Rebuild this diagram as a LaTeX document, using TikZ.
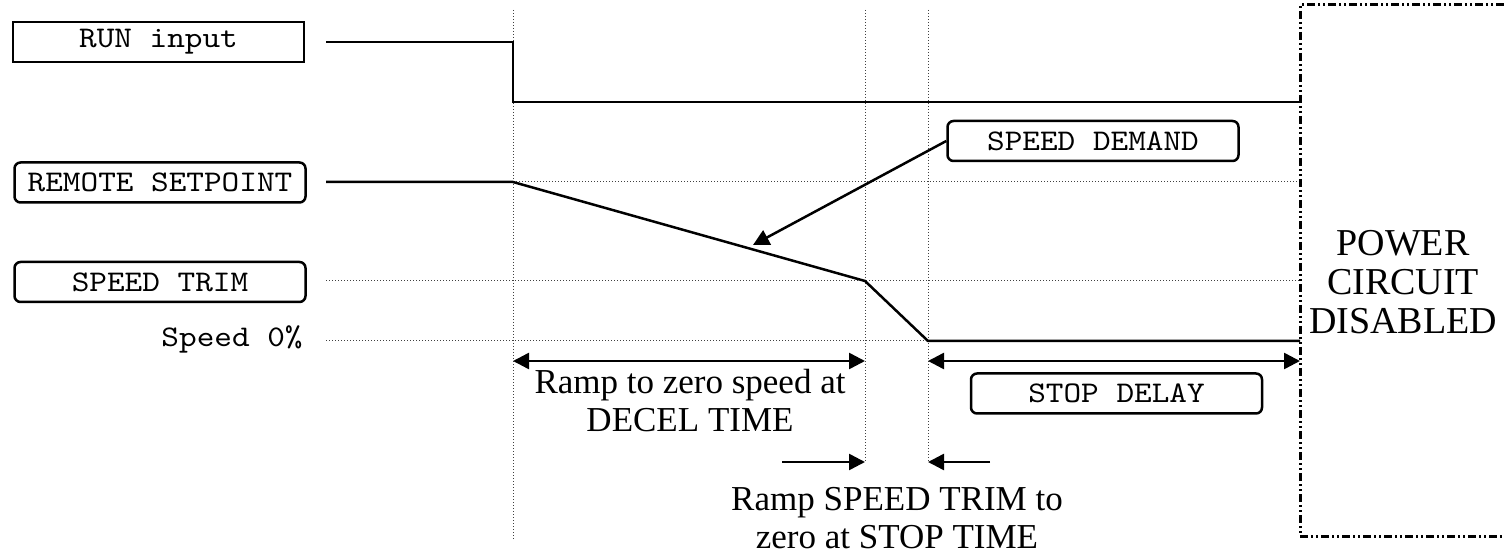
\documentclass[tikz,border=0pt]{standalone}
\usepackage{fontspec}
\setmainfont{Liberation Serif}
\setmonofont{lmmono10-regular}[Extension=.otf, FakeStretch=1.12]
\usetikzlibrary{arrows.meta, positioning}

\begin{document}
\begin{tikzpicture}[
      x=0.5pt, y=-0.5pt,
      >={Triangle[length=8pt, width=8pt]},
      sig/.style={line width=1.25pt},
      guide/.style={line width=0.5pt, densely dotted, black!75},
      tag/.style={draw, line width=1.25pt, rounded corners=3pt, minimum width=145.5pt,
        minimum height=20pt, inner sep=0pt, font=\fontsize{15}{17}\selectfont\ttfamily},
      plain/.style={tag, sharp corners},
      note/.style={align=center, inner sep=0pt, font=\fontsize{17.5}{19}\selectfont},
      span/.style={sig, <->},
      cutoff/.style={line width=1.5pt,
        dash pattern=on 4pt off 1.5pt on 1pt off 1.5pt on 1pt off 1.5pt},
    ]
    \useasboundingbox (0,0) rectangle (1504,555);
    % time markers
    \foreach \gx/\gy in {513/540, 865/462, 928/462}
      \draw[guide] (\gx,10) -- (\gx,\gy);
    \foreach \gy/\gs in {182/513, 281/326, 341/326}
      \draw[guide] (\gs,\gy) -- (1300,\gy);
    % signal names
    \node[plain] (run) at (158.5,42) {RUN input};
    \node[tag] (remote) at (160,182.5) {REMOTE SETPOINT};
    \node[tag] (trim) at (160,282) {SPEED TRIM};
    \node[anchor=east, inner sep=0pt, font=\fontsize{15}{17}\selectfont\ttfamily]
      (zero) at (303,339) {Speed 0\%};
    % traces
    \draw[sig] (326,42) -- (513,42) -- (513,102) -- (1300,102);
    \draw[sig] (326,182) -- (513,182) -- (865,281) -- (928,341) -- (1300,341);
    % drive off
    \draw[cutoff] (1504,5) -- (1300,5) -- (1300,536) -- (1504,536);
    \node[note, font=\fontsize{19}{19.5}\selectfont] (power) at (1403,282)
      {POWER\\CIRCUIT\\DISABLED};
    % demand pointer
    \node[tag] (demand) at (1093,141) {SPEED DEMAND};
    \coordinate (demtip) at (753,245);
    \draw[sig, ->] (demand.west) -- (demtip);
    % intervals
    \coordinate (decA) at (513,361);
    \coordinate (decB) at (865,361);
    \coordinate (dlyA) at (928,361);
    \coordinate (dlyB) at (1300,361);
    \draw[span] (decA) -- (decB);
    \draw[span] (dlyA) -- (dlyB);
    \node[note] (decel) at (690,401) {Ramp to zero speed at\\DECEL TIME};
    \node[tag] (delay) at (1116.5,393.5) {STOP DELAY};
    \coordinate (trimA) at (782,462);
    \coordinate (trimB) at (865,462);
    \coordinate (trimC) at (990,462);
    \coordinate (trimD) at (928,462);
    \draw[sig, ->] (trimA) -- (trimB);
    \draw[sig, ->] (trimC) -- (trimD);
    \node[note] (stoptime) at (897,518) {Ramp SPEED TRIM to\\zero at STOP TIME};
  \end{tikzpicture}
\end{document}
